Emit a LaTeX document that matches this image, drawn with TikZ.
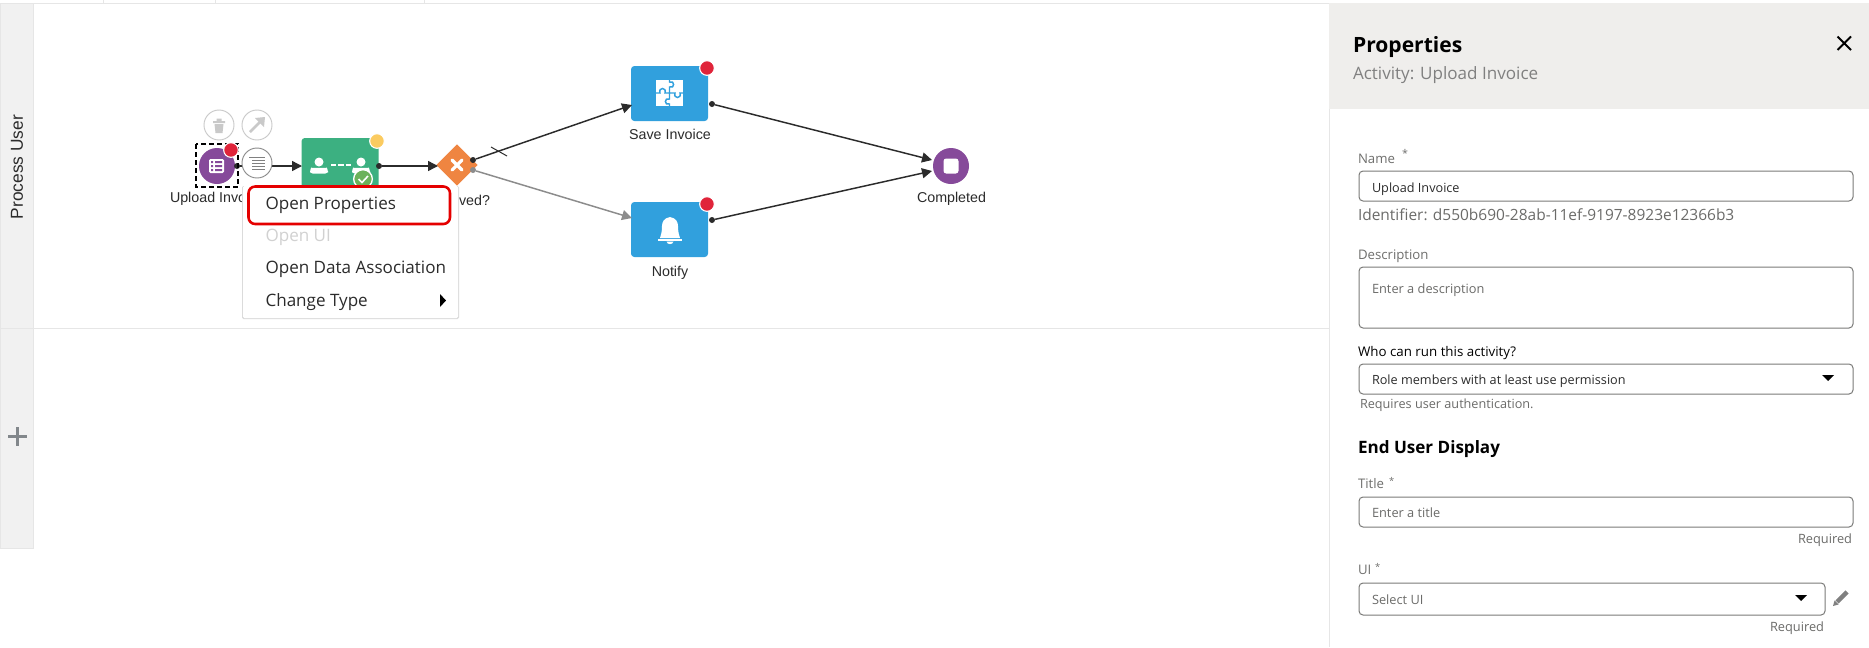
\documentclass[tikz,border=0pt]{standalone}
\usepackage{fontspec}
\setmainfont{Open Sans}
\newfontfamily\arialf{Liberation Sans}
\usetikzlibrary{arrows.meta,shapes.geometric}
\definecolor{purp}{HTML}{864A9A}
\definecolor{redb}{HTML}{E0243A}
\definecolor{greent}{HTML}{3CB081}
\definecolor{yell}{HTML}{FBCB60}
\definecolor{orng}{HTML}{EF8541}
\definecolor{blu}{HTML}{31A0DD}
\definecolor{lane}{HTML}{F1F1F1}
\definecolor{laneb}{HTML}{E6E6E6}
\definecolor{hdr}{HTML}{EFEEEC}
\definecolor{ink}{HTML}{2B2B2B}
\definecolor{fld}{HTML}{7A7A78}
\definecolor{lbl}{HTML}{6F6F6D}
\definecolor{hint}{HTML}{6B6B69}
\definecolor{icg}{HTML}{C9C9C9}
\definecolor{plusg}{HTML}{82878B}
\definecolor{chkg}{HTML}{6CB25A}
\newcommand{\fs}[1]{\fontsize{#1}{#1}\selectfont}
\tikzset{
  x=0.75pt,y=-0.75pt,
  txt/.style={inner sep=0pt,outer sep=0pt,anchor=base west},
  txr/.style={inner sep=0pt,outer sep=0pt,anchor=base east},
  cvs/.style={inner sep=0pt,outer sep=0pt,anchor=base,font=\arialf\fs{10.7},text=ink},
  task/.style={inner sep=0pt,outer sep=0pt,minimum width=57.75pt,minimum height=41.25pt,rounded corners=2.5pt},
  bdg/.style={circle,inner sep=0pt,minimum size=11pt,draw=white,line width=0.8pt},
  dot/.style={circle,fill=ink,inner sep=0pt,minimum size=4.5pt},
  ctl/.style={circle,draw=icg,fill=white,line width=0.7pt,inner sep=0pt,minimum size=22.5pt},
  flow/.style={draw=ink,line width=1.1pt,-{Triangle[length=7.5pt,width=7.5pt]}},
  gflow/.style={draw=gray!90,line width=1.1pt,-{Triangle[length=7.5pt,width=7.5pt]}},
  field/.style={draw=fld,line width=0.75pt,rounded corners=3pt,fill=white,inner sep=0pt,anchor=north west},
  menuitem/.style={txt,font=\fs{12.8},text=ink},
  flabel/.style={txt,font=\fs{9.9},text=lbl},
  fvalue/.style={txt,font=\fs{9.5},text=ink},
  fhint/.style={txt,font=\fs{9.6},text=hint},
  rhint/.style={txr,font=\fs{9.6},text=hint},
  star/.style={txt,font=\fs{8},text=lbl},
}
\begin{document}
\begin{tikzpicture}
\useasboundingbox (0,0) rectangle (1869,647);
\fill[white] (0,0) rectangle (1869,647);
% top strip
\draw[laneb,line width=0.75pt] (0,3.5) -- (1869,3.5);
\foreach \tx in {103.5,215.5,424.5}{\draw[laneb,line width=0.6pt] (\tx,0) -- (\tx,3.5);}
% lanes
\draw[fill=lane,draw=laneb,line width=0.75pt] (0,3.5) rectangle (33,328.5);
\draw[fill=lane,draw=laneb,line width=0.75pt] (0,328.5) rectangle (33,548.5);
\draw[laneb,line width=0.75pt] (33,328.5) -- (1329,328.5);
\node[rotate=90,inner sep=0pt,font=\arialf\fs{13},text=ink] (lanename) at (17,167) {Process User};
\draw[plusg,line width=2pt] (8,436.5) -- (27,436.5) (17.5,427) -- (17.5,446);

% nodes
\node[circle,fill=purp,inner sep=0pt,minimum size=27pt] (upload) at (217,166) {};
\node[task,fill=greent] (approve) at (340,165.5) {};
\node[diamond,fill=orng,inner sep=0pt,minimum width=31pt,minimum height=31pt,aspect=1] (gate) at (457,165) {};
\node[task,fill=blu] (save) at (669.5,93.5) {};
\node[task,fill=blu] (notify) at (669.5,229.5) {};
\node[circle,fill=purp,inner sep=0pt,minimum size=27pt] (done) at (951,166) {};

% connector end dots
\node[dot] (d1) at (237,166) {};
\node[dot] (d2) at (379,166) {};
\node[dot] (d3) at (473,160) {};
\node[dot,fill=gray!90] (d4) at (473,170) {};
\node[dot] (d5) at (712,104) {};
\node[dot] (d6) at (712,220) {};
\coordinate (a1) at (302,166);
\coordinate (a2) at (438,166);
\coordinate (a3) at (632,105);
\coordinate (a4) at (632,218);
\coordinate (a5) at (932,160);
\coordinate (a6) at (932,171);
\draw[flow] (d1) -- (a1);
\draw[flow] (d2) -- (a2);
\draw[flow] (d3) -- (a3);
\draw[gflow] (d4) -- (a4);
\draw[flow] (d5) -- (a5);
\draw[flow] (d6) -- (a6);
\coordinate (t1) at (491,147); \coordinate (t2) at (507,156);
\draw[ink,line width=0.75pt] (t1) -- (t2);

% selection + upload icon
\draw[black,line width=0.95pt,dash pattern=on 3.75pt off 2.25pt] (196,144) rectangle (238,187);
\fill[white,rounded corners=1pt] (209,159) rectangle (224,173);
\fill[purp] (211,161) rectangle (213,163) (211,165) rectangle (213,167) (211,169) rectangle (213,171)
  (215,161) rectangle (222,163) (215,165) rectangle (222,167) (215,169) rectangle (222,171);
\node[bdg,fill=redb] (b1) at (231,150) {};

% controls
\node[ctl] (ctrash) at (219,125) {};
\node[ctl] (carrow) at (257,125) {};
\node[ctl,draw=gray!90] (cmenu) at (257,163) {};
\fill[icg] (213,121) rectangle (225,123) (216.5,118.5) rectangle (221.5,121) (214.5,124) -- (223.5,124) -- (222.5,133) -- (215.5,133) -- cycle;
\draw[icg,line width=2pt] (250,132) -- (262,120);
\fill[icg] (265,117) -- (264,127) -- (255,118) -- cycle;
\draw[gray,line width=1pt] (249,157.5) -- (265,157.5) (252,160.5) -- (265,160.5) (252,163.5) -- (265,163.5) (252,166.5) -- (265,166.5) (252,169.5) -- (265,169.5);

% green task icon
\fill[white] (319,162) circle (4.5) (361,162) circle (4.5);
\fill[white,rounded corners=2pt] (310,173.5) -- (310,170) .. controls (311,168) and (327,168) .. (328,170) -- (328,173.5) -- cycle;
\fill[white,rounded corners=2pt] (352,173.5) -- (352,170) .. controls (353,168) and (369,168) .. (370,170) -- (370,173.5) -- cycle;
\draw[white,line width=1.6pt,dash pattern=on 4pt off 1.5pt] (331,165) -- (351,165);
\node[bdg,fill=yell] (b2) at (377,141) {};
\node[circle,fill=chkg,draw=white,line width=1pt,inner sep=0pt,minimum size=14pt] (chk) at (363,179) {};
\draw[white,line width=1.2pt] (358.5,179) -- (362,182.5) -- (368,176);

% gateway x
\draw[white,line width=2.4pt,line cap=round] (452,160) -- (462,170) (462,160) -- (452,170);

% blue tasks
\node[bdg,fill=redb] (b3) at (707,68) {};
\node[bdg,fill=redb] (b4) at (707,204) {};
\fill[white] (656,80) rectangle (683,106);
\draw[blu,line width=1.1pt]
  (669.5,80) -- (669.5,82) .. controls (675,80) and (675,89) .. (669.5,87) -- (669.5,93)
  (656,93) -- (660,93) .. controls (658,87) and (667,87) .. (665,93) -- (669.5,93)
  (683,93) -- (680,93) .. controls (682,99) and (673,99) .. (675,93) -- (669.5,93)
  (669.5,106) -- (669.5,104) .. controls (664,106) and (664,97) .. (669.5,99) -- (669.5,93);
\fill[white] (670,217) .. controls (664,218) and (662,222) .. (662,226) .. controls (662,232) and (661,235) .. (660,238) -- (680,238) .. controls (679,235) and (678,232) .. (678,226) .. controls (678,222) and (676,218) .. (670,217) -- cycle;
\fill[white] (658,238.5) rectangle (682,240.5);
\fill[white] (666.5,241.5) .. controls (667,245) and (673,245) .. (673.5,241.5) -- cycle;

% completed icon
\fill[white,rounded corners=2pt] (943.5,158.5) rectangle (958.5,173.5);

% canvas labels
\node[cvs,anchor=base west] (lupload) at (170,202) {Upload Invo};
\node[cvs,anchor=base west] (lgate) at (459,205) {ved?};
\node[cvs] (lsave) at (670,139) {Save Invoice};
\node[cvs] (lnotify) at (670,276) {Notify};
\node[cvs] (ldone) at (951.5,202) {Completed};

% context menu
\fill[black!14,rounded corners=1pt] (242,186) rectangle (459,319);
\fill[white,rounded corners=1pt] (243,186) rectangle (458,318);
\draw[red!90!black,line width=1.9pt,rounded corners=5pt] (248.5,186.5) rectangle (450,224);
\node[menuitem] (m1) at (265.5,209) {Open Properties};
\node[menuitem,text=black!18] (m2) at (265.5,241) {Open UI};
\node[menuitem] (m3) at (265.5,273) {Open Data Association};
\node[menuitem] (m4) at (265.5,306) {Change Type};
\fill[black] (440,294) -- (446,300.5) -- (440,307) -- cycle;

% panel
\fill[white] (1329,3) rectangle (1869,647);
\draw[laneb,line width=0.75pt] (1329,3) -- (1329,647);
\fill[hdr] (1329,3) rectangle (1869,109);
\node[txt,font=\bfseries\fs{15.8},text=black] (ptitle) at (1353,52) {Properties};
\node[txt,font=\fs{12.8},text=gray] (psub) at (1353,79) {Activity: Upload Invoice};
\draw[black,line width=1.4pt] (1837.5,36.5) -- (1851,50) (1851,36.5) -- (1837.5,50);

\node[flabel] (lname) at (1358,163) {Name};
\node[star] (sname) at (1402,157) {*};
\node[field,minimum width=370.5pt,minimum height=22.5pt] (fname) at (1358.5,170.5) {};
\node[fvalue] (vname) at (1372,192) {Upload Invoice};
\node[txt,font=\fs{11.6},text=hint] (ident) at (1358,220) {Identifier: d550b690-28ab-11ef-9197-8923e12366b3};
\node[flabel] (ldesc) at (1358,259) {Description};
\node[field,minimum width=370.5pt,minimum height=45.75pt] (fdesc) at (1358.5,266.5) {};
\node[fhint] (vdesc) at (1372,293) {Enter a description};
\node[flabel,font=\fs{10},text=black] (lwho) at (1358,356) {Who can run this activity?};
\node[field,minimum width=370.5pt,minimum height=22.5pt] (fwho) at (1358.5,363.5) {};
\node[fvalue] (vwho) at (1372,384) {Role members with at least use permission};
\fill[black] (1822,375) -- (1834,375) -- (1828,381) -- cycle;
\node[txt,font=\fs{9.5},text=hint] (hwho) at (1360,408) {Requires user authentication.};
\node[txt,font=\bfseries\fs{12.8},text=black] (hend) at (1358,453) {End User Display};
\node[flabel] (ltitle) at (1358,488) {Title};
\node[star,font=\fs{7}] (stitle) at (1389,484) {*};
\node[field,minimum width=370.5pt,minimum height=22.5pt] (ftitle) at (1358.5,496.5) {};
\node[fhint] (vtitle) at (1372,517) {Enter a title};
\node[rhint] (rtitle) at (1852,543) {Required};
\node[flabel] (lui) at (1358,574) {UI};
\node[star,font=\fs{7}] (sui) at (1375,570) {*};
\node[field,minimum width=349.5pt,minimum height=24pt] (fui) at (1358.5,582.5) {};
\node[fhint] (vui) at (1372,604) {Select UI};
\fill[black] (1795,595) -- (1807,595) -- (1801,601) -- cycle;
\draw[gray,line width=3.4pt] (1837,602) -- (1847,592);
\fill[gray] (1833,606) -- (1834.5,600.5) -- (1838.5,604.5) -- cycle;
\node[rhint] (rui) at (1824,631) {Required};
\end{tikzpicture}
\end{document}
